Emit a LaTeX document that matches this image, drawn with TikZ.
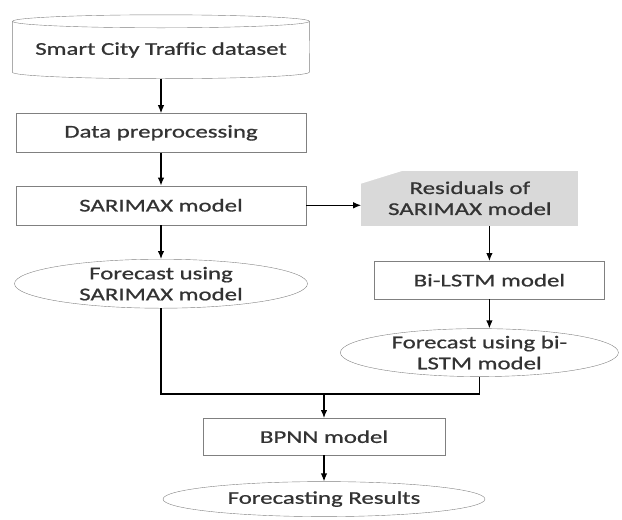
\documentclass[tikz,border=0pt]{standalone}
\usepackage{fontspec}
\setmainfont{Carlito}[FakeStretch=1.38, FakeBold=0.8]
\usetikzlibrary{shapes.geometric, arrows.meta, positioning}

\begin{document}
\begin{tikzpicture}[
    x=1pt, y=-1pt,
    font=\fontsize{18}{21}\selectfont,
    text=black!80,
    process/.style={draw=black!50, rectangle, minimum width=290pt, minimum height=39pt, inner sep=0pt, align=center},
    output/.style={draw=black!50, ellipse, inner sep=0pt, align=center},
    database/.style={rectangle, minimum width=297pt, minimum height=57pt, inner sep=0pt},
    residual/.style={fill=black!15, rectangle, minimum width=217pt, minimum height=55pt, inner sep=0pt, align=center},
    arrow/.style={-{Latex[length=8pt,width=6.5pt]}, line width=1.2pt},
    link/.style={line width=1.2pt}
]
    \useasboundingbox (0,0) rectangle (622,520);

    % Left branch
    \node (data) [database] at (161,50) {Smart City Traffic dataset};
    \node (prep) [process, below=34.5pt of data] {Data preprocessing};
    \node (sarimax) [process, below=33pt of prep] {SARIMAX model};
    \node (fcsar) [output, minimum width=293pt, minimum height=49pt, below=34pt of sarimax] {Forecast using\\SARIMAX model};

    % Cylinder outline
    \draw[black!50] (data.north) ellipse [x radius=148.5pt, y radius=6.5pt];
    \draw[black!50] (data.north west) -- ([yshift=6.5pt]data.south west) arc[start angle=180, end angle=360, x radius=148.5pt, y radius=6.5pt] -- (data.north east);

    % Right branch
    \node (resid) [residual, right=55pt of sarimax, yshift=7pt] {Residuals of\\SARIMAX model};
    \fill[white] (resid.north west) -- ([xshift=42pt]resid.north west) -- ([yshift=-13pt]resid.north west) -- cycle;
    \node (bilstm) [process, minimum width=230pt, minimum height=38pt, below=35pt of resid, xshift=19.5pt] {Bi-LSTM model};
    \node (fclstm) [output, minimum width=278pt, minimum height=48pt, below=29pt of bilstm, xshift=-10pt] {Forecast using bi-\\LSTM model};

    % Merge
    \coordinate (join) at (324,394);
    \node (bpnn) [process, minimum width=242pt, minimum height=37pt, below=24pt of join] {BPNN model};
    \node (result) [output, minimum width=322pt, minimum height=35pt, below=26pt of bpnn] {Forecasting Results};

    % Connections
    \draw[arrow] (data) -- (prep);
    \draw[arrow] (prep) -- (sarimax);
    \draw[arrow] (sarimax) -- (fcsar);
    \draw[arrow] (sarimax.east) -- (sarimax.east -| resid.west);
    \draw[arrow] (resid.south -| bilstm.north) -- (bilstm.north);
    \draw[arrow] (bilstm) -- (bilstm.south |- fclstm.north);
    \draw[link] (fcsar.south) |- (join);
    \draw[link] (fclstm.south) |- (join);
    \draw[arrow] (join) -- (bpnn);
    \draw[arrow] (bpnn) -- (result);
\end{tikzpicture}
\end{document}
